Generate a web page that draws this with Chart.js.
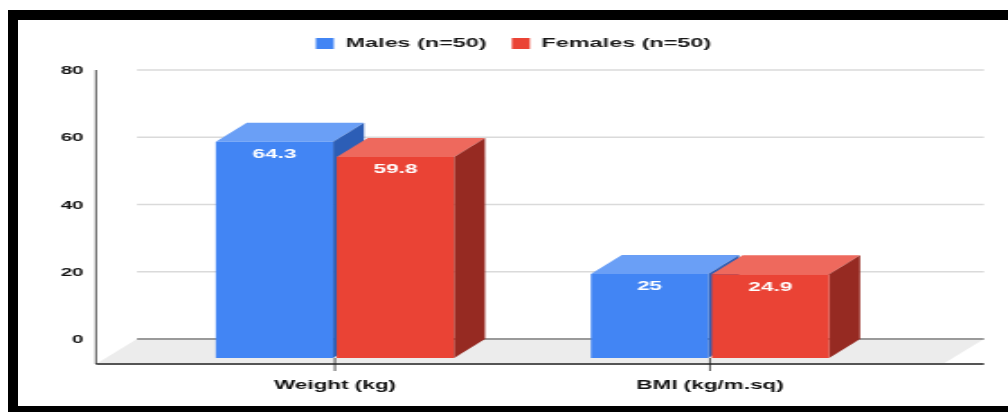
<!DOCTYPE html>
<html>
<head>
<meta charset="utf-8">
<script src="https://cdn.jsdelivr.net/npm/chart.js@4.4.1/dist/chart.umd.min.js"></script>
<style>
  html, body { margin: 0; padding: 0; background: #fff; width: 1008px; height: 412px; overflow: hidden; }
  #stage { position: absolute; left: 0; top: 0; width: 560px; height: 412px; transform: scaleX(1.8); transform-origin: 0 0; }
  .frame { position: absolute; background: #000; }
</style>
</head>
<body>
<div id="stage"><canvas id="chart" width="560" height="412"></canvas></div>
<div class="frame" style="left:8px; top:10px; width:1000px; height:10px"></div>
<div class="frame" style="left:8px; top:10px; width:10px; height:402px"></div>
<div class="frame" style="left:8px; top:406px; width:1000px; height:6px"></div>
<script>
// Data
const categories = ['Weight (kg)', 'BMI (kg/m.sq)'];
const seriesNames = ['Males (n=50)', 'Females (n=50)'];
const malesValues = [64.3, 25];
const femalesValues = [59.8, 24.9];
const yTicks = [0, 20, 40, 60, 80];

// Face colours of the 3D boxes: front, top, side
const palette = [
  { front: '#4285f4', top: '#6a9ff6', side: '#2c5eb6' },
  { front: '#ea4335', top: '#ee695d', side: '#962a22' }
];

// Oblique projection of the box depth and the floor
const DEPTH_X = 17.2, DEPTH_Y = 19;
const FLOOR_X = 22.8, FLOOR_Y = 25;
const FLOOR_LEFT = 28.6, FLOOR_RIGHT = 25.3;
const LEGEND_GAP = 29;
const LEGEND_SHIFT = 21;

const FONT = '"Liberation Sans", Arial, Helvetica, sans-serif';

const threeD = {
  id: 'threeD',
  beforeLayout(chart) {
    const lg = chart.legend;
    if (lg && !lg._gapAdded) {
      const fit = lg.fit;
      lg.fit = function () { fit.call(this); this.height += LEGEND_GAP; };
      lg._gapAdded = true;
    }
  },
  afterLayout(chart) {
    const lg = chart.legend;
    if (lg) { lg.left += LEGEND_SHIFT; lg.right += LEGEND_SHIFT; }
  },
  beforeDatasetsDraw(chart) {
    const { ctx, chartArea, scales: { x, y } } = chart;
    const base = y.getPixelForValue(0);
    const backY0 = base - DEPTH_Y;
    const frontY0 = backY0 + FLOOR_Y;
    const fl = chartArea.left - FLOOR_LEFT;
    const fr = chartArea.right + FLOOR_RIGHT;
    ctx.save();

    // floor
    ctx.fillStyle = '#ececec';
    ctx.beginPath();
    ctx.moveTo(fl, frontY0);
    ctx.lineTo(fl + FLOOR_X, backY0);
    ctx.lineTo(fr + FLOOR_X, backY0);
    ctx.lineTo(fr, frontY0);
    ctx.closePath();
    ctx.fill();

    // gridlines on the back wall
    y.ticks.forEach(t => {
      const yy = y.getPixelForValue(t.value) - DEPTH_Y;
      ctx.beginPath();
      ctx.strokeStyle = t.value === 0 ? '#9a9a9a' : '#dadada';
      ctx.lineWidth = t.value === 0 ? 2 : 1.5;
      ctx.moveTo(fl + FLOOR_X, yy);
      ctx.lineTo(fr + FLOOR_X, yy);
      ctx.stroke();
    });

    // front edge of the floor (x axis line)
    ctx.beginPath();
    ctx.strokeStyle = '#555';
    ctx.lineWidth = 2;
    ctx.moveTo(fl, frontY0);
    ctx.lineTo(fr + FLOOR_X, frontY0);
    ctx.stroke();

    // y axis line
    ctx.beginPath();
    ctx.strokeStyle = '#222';
    ctx.lineWidth = 0.8;
    ctx.moveTo(fl, y.getPixelForValue(yTicks[yTicks.length - 1]) - DEPTH_Y);
    ctx.lineTo(fl, frontY0);
    ctx.stroke();

    // category tick marks
    x.ticks.forEach((t, i) => {
      const xx = x.getPixelForTick(i);
      ctx.beginPath();
      ctx.strokeStyle = '#222';
      ctx.lineWidth = 0.8;
      ctx.moveTo(xx, base);
      ctx.lineTo(xx, base + 13);
      ctx.stroke();
    });

    // top and side faces, back to front
    chart.data.datasets.forEach((ds, di) => {
      const meta = chart.getDatasetMeta(di);
      const col = palette[di];
      meta.data.forEach(bar => {
        const p = bar.getProps(['x', 'y', 'base', 'width'], true);
        const xl = p.x - p.width / 2, xr = p.x + p.width / 2;
        ctx.fillStyle = col.top;
        ctx.beginPath();
        ctx.moveTo(xl, p.y);
        ctx.lineTo(xl + DEPTH_X, p.y - DEPTH_Y);
        ctx.lineTo(xr + DEPTH_X, p.y - DEPTH_Y);
        ctx.lineTo(xr, p.y);
        ctx.closePath();
        ctx.fill();
        ctx.fillStyle = col.side;
        ctx.beginPath();
        ctx.moveTo(xr, p.y);
        ctx.lineTo(xr + DEPTH_X, p.y - DEPTH_Y);
        ctx.lineTo(xr + DEPTH_X, p.base - DEPTH_Y);
        ctx.lineTo(xr, p.base);
        ctx.closePath();
        ctx.fill();
      });
    });
    ctx.restore();
  },
  afterDatasetsDraw(chart) {
    const { ctx } = chart;
    ctx.save();
    ctx.fillStyle = '#fff';
    ctx.font = 'bold 12.5px ' + FONT;
    ctx.textAlign = 'center';
    ctx.textBaseline = 'middle';
    chart.data.datasets.forEach((ds, di) => {
      chart.getDatasetMeta(di).data.forEach((bar, i) => {
        const p = bar.getProps(['x', 'y'], true);
        ctx.fillText(String(ds.data[i]), p.x, p.y + 13);
      });
    });
    ctx.restore();
  }
};

new Chart(document.getElementById('chart'), {
  type: 'bar',
  data: {
    labels: categories,
    datasets: [
      { label: seriesNames[0], data: malesValues, backgroundColor: palette[0].front, borderWidth: 0,
        categoryPercentage: 0.645, barPercentage: 0.97 },
      { label: seriesNames[1], data: femalesValues, backgroundColor: palette[1].front, borderWidth: 0,
        categoryPercentage: 0.645, barPercentage: 0.97 }
    ]
  },
  options: {
    responsive: false,
    devicePixelRatio: 1,
    animation: false,
    layout: { padding: { left: 30, right: 61.4, top: 23, bottom: 0 } },
    plugins: {
      tooltip: { enabled: false },
      legend: {
        position: 'top',
        labels: {
          boxWidth: 10, boxHeight: 11, padding: 14, color: '#1a1a1a',
          font: { family: FONT, size: 13, weight: 'bold' }
        }
      }
    },
    scales: {
      x: {
        grid: { display: false, drawTicks: false },
        border: { display: false },
        ticks: { color: '#111', padding: 20, font: { family: FONT, size: 12.5, weight: 'bold' } },
        afterFit(s) { s.height = 54; }
      },
      y: {
        min: 0, max: 80,
        afterBuildTicks(s) { s.ticks = yTicks.map(v => ({ value: v })); },
        grid: { display: false, drawTicks: false },
        border: { display: false },
        ticks: { color: '#111', padding: 35.4, labelOffset: -18, font: { family: FONT, size: 11.5, weight: 'bold' } },
        afterFit(s) { s.width = 51.9; }
      }
    }
  },
  plugins: [threeD]
});
</script>
</body>
</html>
